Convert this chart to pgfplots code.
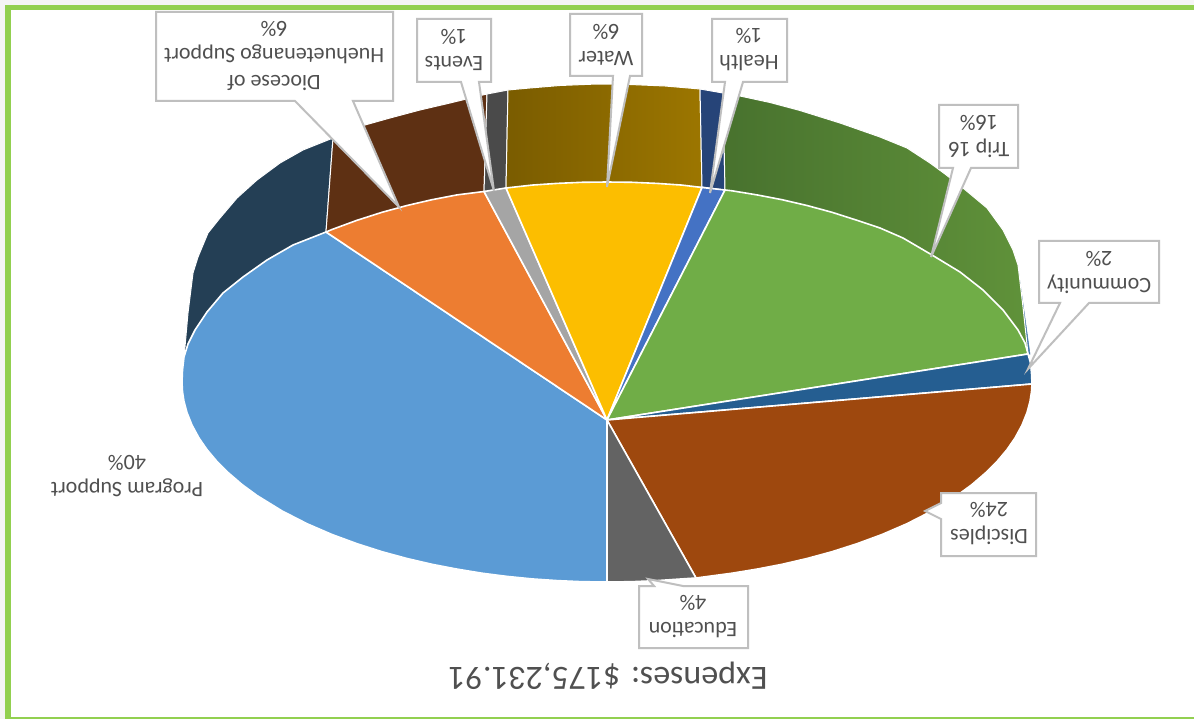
\documentclass[border=0pt]{standalone}
\usepackage{pgfplots}
\usepackage{fontspec}
\pgfplotsset{compat=1.18}
\setmainfont{Carlito}
\definecolor{lab}{HTML}{505050}
\definecolor{cb}{HTML}{BFBFBF}
\definecolor{frame}{HTML}{92D050}
\pgfplotsset{
  wall/.style={draw=white,line width=1pt,line join=round},
  face/.style={draw=white,line width=1.6pt,line join=round},
  box/.style={fill=white,draw=cb,line width=2pt,line join=miter},
}
\tikzset{lbl/.style={rotate=180,text=lab,align=center,font=\fontsize{22}{27}\selectfont,inner sep=0pt}}
\begin{document}
\begin{tikzpicture}
\begin{axis}[hide axis,scale only axis,width=1194pt,height=719pt,xmin=0,xmax=1194,ymin=0,ymax=719,y dir=reverse]
% background and frame
\addplot[fill=black!4,draw=none] coordinates {(0,0)(1194,0)(1194,719)(0,719)} --cycle;
\addplot[fill=frame,draw=none] coordinates {(5,5)(1194,5)(1194,719)(5,719)} --cycle;
\addplot[fill=white,draw=none] coordinates {(11,10)(1194,10)(1194,717)(11,717)} --cycle;
% side walls
\addplot[draw={rgb,255:red,70;green,120;blue,170},fill={rgb,255:red,70;green,120;blue,170},line width=0.5pt] coordinates {(1019,275)(1030,354)(1027,354)} --cycle;
\addplot[wall,fill={rgb,255:red,36;green,63;blue,85}] coordinates {(184,358)(188,313)(193,273)(198,257)(208,233)(220,218)(237,198)(257,180)(280,163)(303,150)(333,138)(326,232)(207,312)} --cycle;
\addplot[wall,fill={rgb,255:red,94;green,48;blue,19}] coordinates {(333,138)(350,131)(365,125)(390,118)(420,110)(450,103)(487,94)(484,192)(326,232)} --cycle;
\addplot[wall,fill={rgb,255:red,74;green,74;blue,74}] coordinates {(487,94)(508,90)(506,188)(484,192)} --cycle;
\addplot[wall,shade,shading=axis,shading angle=90,left color={rgb,255:red,122;green,92;blue,0},right color={rgb,255:red,156;green,118;blue,0}] coordinates {(508,90)(530,88)(560,85.5)(597,84)(630,84.5)(665,86)(700,89)(702,187)(506,188)} --cycle;
\addplot[wall,fill={rgb,255:red,38;green,68;blue,120}] coordinates {(700,89)(723,93)(725,190)(702,187)} --cycle;
\addplot[wall,shade,shading=axis,shading angle=90,left color={rgb,255:red,72;green,114;blue,46},right color={rgb,255:red,96;green,146;blue,58}] coordinates {(723,93)(740,96)(770,102.5)(800,110.5)(840,123)(880,137)(907,148)(930,163)(945,174)(963,188)(987,208)(1003,230)(1013,250)(1018,265)(1023,307)(1028,354)(725,190)} --cycle;
% top face
\addplot[face,fill={rgb,255:red,91;green,155;blue,213}] coordinates {(607,420)(607,582)(582,581.7)(557,580.6)(532,578.9)(507,576.4)(482,573.2)(457,569.1)(432,564.3)(407,558.5)(382,551.7)(357,543.7)(332,534.5)(307,523.7)(282,510.9)(257,495.5)(242,484.5)(227,471.6)(217,461.5)(207,449.6)(199,438)(192,425.1)(187,412.6)(184,401.4)(182.5,391.7)(182,382)(182.5,370)(184,357)(188,344)(195,330)(207,312)(223,293)(243,277)(267,260)(293,245)(326,232)} --cycle;
\addplot[face,fill={rgb,255:red,237;green,125;blue,49}] coordinates {(607,420)(326,232)(332,229.5)(357,220.3)(382,212.3)(407,205.5)(432,199.7)(457,194.9)(484,191.5)} --cycle;
\addplot[face,fill={rgb,255:red,165;green,165;blue,165}] coordinates {(607,420)(484,191.5)(506,188)} --cycle;
\addplot[face,fill={rgb,255:red,252;green,190;blue,0}] coordinates {(607,420)(506,188)(532,185.1)(557,183.4)(582,182.3)(607,182)(632,182.3)(657,183.4)(682,185.1)(702,187.5)} --cycle;
\addplot[face,fill={rgb,255:red,68;green,114;blue,196}] coordinates {(607,420)(702,187.5)(725,190)} --cycle;
\addplot[face,fill={rgb,255:red,112;green,173;blue,71}] coordinates {(607,420)(725,190)(732,190.8)(757,194.9)(782,199.7)(807,205.5)(832,212.3)(857,220.3)(880,228)(903,238)(932,255)(960,272)(983,290)(1003,310)(1018,330)(1025,343)(1028,354)} --cycle;
\addplot[face,fill={rgb,255:red,37;green,94;blue,145}] coordinates {(607,420)(1028,354)(1030.5,363)(1031.5,373)(1032,384)} --cycle;
\addplot[face,fill={rgb,255:red,158;green,72;blue,14}] coordinates {(607,420)(1032,384)(1031.5,391.7)(1030,401.4)(1027,412.6)(1022,425.1)(1015,438)(1007,449.6)(997,461.5)(987,471.6)(972,484.5)(957,495.5)(932,510.9)(907,523.7)(882,534.5)(857,543.7)(832,551.7)(807,558.5)(782,564.3)(757,569.1)(732,573.2)(696,578)} --cycle;
\addplot[face,fill={rgb,255:red,99;green,99;blue,99}] coordinates {(607,420)(696,578)(682,578.9)(657,580.6)(632,581.7)(607,582)} --cycle;
% callouts
\addplot[box] coordinates {(156,12)(393,12)(393,101)(353,101)(399,207)(295,101)(156,101)} --cycle;
\addplot[box] coordinates {(417,19)(491,19)(491,82)(479,82)(494,191)(461,82)(417,82)} --cycle;
\addplot[box] coordinates {(570,14)(642,14)(642,76)(630,76)(607,187)(613,76)(570,76)} --cycle;
\addplot[box] coordinates {(712,19)(787,19)(787,82)(743,82)(710,193)(725,82)(712,82)} --cycle;
\addplot[box] coordinates {(939,105)(1018,105)(1018,168)(971,168)(931,257)(953,168)(939,168)} --cycle;
\addplot[box] coordinates {(1039,241)(1159,241)(1159,303)(1089,303)(1028,369)(1060,303)(1039,303)} --cycle;
\addplot[box] coordinates {(941,493)(1036,493)(1036,556)(941,556)(941,519)(925,511)(941,503)} --cycle;
\addplot[box] coordinates {(639,586)(654,586)(648,579)(683,586)(748,586)(748,648)(639,648)} --cycle;
% labels
\node[lbl] at (axis cs:274,56) {Diocese of\\Huehuetenango Support\\6\%};
\node[lbl] at (axis cs:454,50) {Events\\1\%};
\node[lbl] at (axis cs:606,45) {Water\\6\%};
\node[lbl] at (axis cs:749,50) {Health\\1\%};
\node[lbl] at (axis cs:979,136) {Trip 16\\16\%};
\node[lbl] at (axis cs:1099,272) {Community\\2\%};
\node[lbl] at (axis cs:989,524) {Disciples\\24\%};
\node[lbl] at (axis cs:693,617) {Education\\4\%};
\node[lbl] at (axis cs:127,476) {Program Support\\40\%};
\node[rotate=180,text=lab,font=\fontsize{34}{38}\selectfont,inner sep=0pt] at (axis cs:608,676) {Expenses: \$175,231.91};
\end{axis}
\end{tikzpicture}
\end{document}
